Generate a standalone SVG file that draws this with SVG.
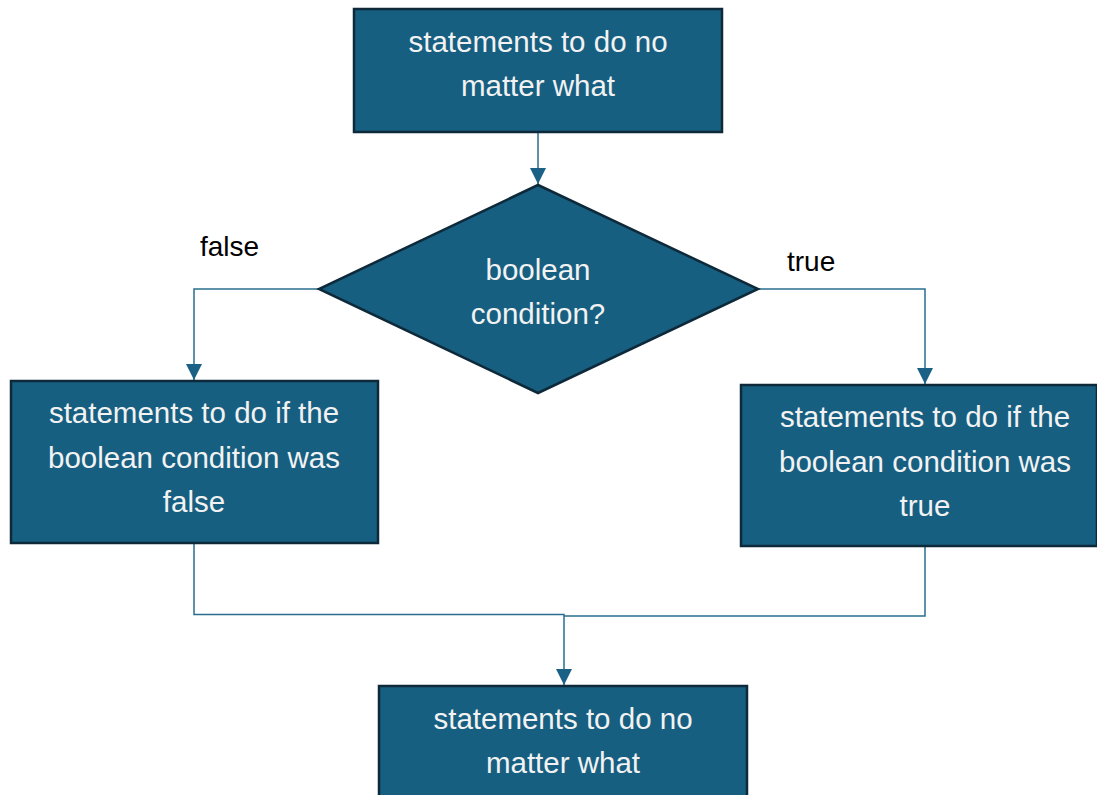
<svg xmlns="http://www.w3.org/2000/svg" width="1097" height="795" viewBox="0 0 1097 795">
<style>
.box{fill:#175f81;stroke:#0e2a3a;stroke-width:2.5}
.t{font-family:"Liberation Sans",Arial,sans-serif;font-size:29.5px;fill:#f2f2f2;text-anchor:middle}
.lbl{font-family:"Liberation Sans",Arial,sans-serif;font-size:28px;fill:#000}
.c{fill:none;stroke:#2a6d8f;stroke-width:1.5}
</style>
<defs>
<marker id="ahb" viewBox="0 0 16 16" refX="16" refY="8" markerWidth="16" markerHeight="16" markerUnits="userSpaceOnUse" orient="auto">
<path d="M0,0 L16,8 L0,16 z" fill="#1a6185"/>
</marker>
</defs>
<g id="connectors">
<path class="c" d="M538,132 V184" marker-end="url(#ahb)"/>
<path class="c" d="M319,289 H194 V380" marker-end="url(#ahb)"/>
<path class="c" d="M758,289 H925 V384" marker-end="url(#ahb)"/>
<path class="c" d="M194,543 V614.5 H564 V685" marker-end="url(#ahb)"/>
<path class="c" d="M925,546 V616 H564"/>
</g>
<g id="top">
<rect class="box" x="354" y="9" width="368" height="123"/>
<text class="t" x="538" y="52">statements to do no</text>
<text class="t" x="538" y="96">matter what</text>
</g>
<g id="decision">
<polygon class="box" points="538,185 758,289 538,393 319,289"/>
<text class="t" x="538" y="280">boolean</text>
<text class="t" x="538" y="324">condition?</text>
</g>
<g id="falseBox">
<rect class="box" x="11" y="381" width="367" height="162"/>
<text class="t" x="194" y="423">statements to do if the</text>
<text class="t" x="194" y="468">boolean condition was</text>
<text class="t" x="194" y="512">false</text>
</g>
<g id="trueBox">
<rect class="box" x="741" y="385" width="356" height="161"/>
<text class="t" x="925" y="427">statements to do if the</text>
<text class="t" x="925" y="472">boolean condition was</text>
<text class="t" x="925" y="516">true</text>
</g>
<g id="bottom">
<rect class="box" x="379" y="686" width="368" height="123"/>
<text class="t" x="563" y="729">statements to do no</text>
<text class="t" x="563" y="773">matter what</text>
</g>
<g id="labels">
<text class="lbl" x="200" y="256">false</text>
<text class="lbl" x="787" y="271">true</text>
</g>
</svg>
